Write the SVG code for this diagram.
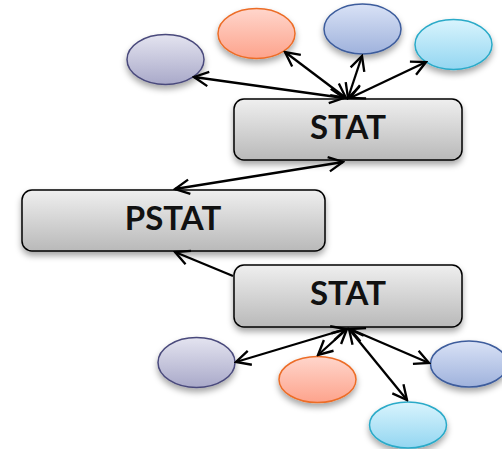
<svg xmlns="http://www.w3.org/2000/svg" width="502" height="449" viewBox="0 0 502 449">
<defs>
<linearGradient id="gBox" x1="0" y1="0" x2="0" y2="1"><stop offset="0" stop-color="#efefef"/><stop offset="1" stop-color="#b9b9b9"/></linearGradient>
<linearGradient id="gPur" x1="0" y1="0" x2="0" y2="1"><stop offset="0" stop-color="#e4e4f0"/><stop offset="1" stop-color="#a9a9c9"/></linearGradient>
<linearGradient id="gOra" x1="0" y1="0" x2="0" y2="1"><stop offset="0" stop-color="#ffd6cc"/><stop offset="1" stop-color="#fda38c"/></linearGradient>
<linearGradient id="gBlu" x1="0" y1="0" x2="0" y2="1"><stop offset="0" stop-color="#d9e2f6"/><stop offset="1" stop-color="#9fb2dc"/></linearGradient>
<linearGradient id="gCya" x1="0" y1="0" x2="0" y2="1"><stop offset="0" stop-color="#d9f4fd"/><stop offset="1" stop-color="#93d6f1"/></linearGradient>
<filter id="sh" x="-20%" y="-20%" width="140%" height="150%"><feDropShadow dx="0" dy="4" stdDeviation="3" flood-color="#000" flood-opacity="0.35"/></filter>
<marker id="ah" viewBox="0 0 20 20" refX="18" refY="10" markerWidth="18" markerHeight="18" markerUnits="userSpaceOnUse" orient="auto-start-reverse"><path d="M2,2 L18,10 L2,18" fill="none" stroke="#000" stroke-width="2.6"/></marker>
</defs>
<style>
.box{fill:url(#gBox);stroke:#000;stroke-width:1.5;filter:url(#sh)}
.lbl{font-family:"Lato","Open Sans","DejaVu Sans",sans-serif;font-size:33px;font-weight:bold;fill:#111;text-anchor:middle}
.c{stroke:#000;stroke-width:2.3;fill:none}
.d{marker-start:url(#ah);marker-end:url(#ah)}
.s{marker-end:url(#ah)}
.pur{fill:url(#gPur);stroke:#4a4a7c;stroke-width:1.5;filter:url(#sh)}
.ora{fill:url(#gOra);stroke:#ec6d28;stroke-width:1.5;filter:url(#sh)}
.blu{fill:url(#gBlu);stroke:#3c5c9c;stroke-width:1.5;filter:url(#sh)}
.cya{fill:url(#gCya);stroke:#2aaac8;stroke-width:1.5;filter:url(#sh)}
</style>
<g id="e1"><ellipse class="pur" cx="165.5" cy="59.5" rx="38.5" ry="25"/></g>
<g id="e2"><ellipse class="ora" cx="256.5" cy="33.5" rx="38.5" ry="25"/></g>
<g id="e3"><ellipse class="blu" cx="362.5" cy="29" rx="38.5" ry="25"/></g>
<g id="e4"><ellipse class="cya" cx="453.5" cy="44.5" rx="38.5" ry="25"/></g>
<g id="e5"><ellipse class="pur" cx="196.5" cy="362.5" rx="38.5" ry="25"/></g>
<g id="e6"><ellipse class="ora" cx="317.5" cy="379.5" rx="38.5" ry="23"/></g>
<g id="e7"><ellipse class="blu" cx="469" cy="364" rx="38.5" ry="23"/></g>
<g id="e8"><ellipse class="cya" cx="408" cy="425" rx="38.5" ry="23"/></g>
<g id="stat1"><rect class="box" x="234" y="99" width="228" height="61" rx="10"/><text class="lbl" x="348" y="139">STAT</text></g>
<g id="pstat"><rect class="box" x="22" y="190" width="303" height="61" rx="10"/><text class="lbl" x="173" y="230">PSTAT</text></g>
<g id="stat2"><rect class="box" x="234" y="265" width="228" height="62" rx="10"/><text class="lbl" x="348" y="305">STAT</text></g>
<g id="connectors">
<line class="c d" x1="344" y1="98" x2="194" y2="77"/>
<line class="c d" x1="346" y1="98" x2="285" y2="52"/>
<line class="c d" x1="348" y1="98" x2="362" y2="56"/>
<line class="c d" x1="350" y1="98" x2="426" y2="62"/>
<line class="c d" x1="343" y1="162" x2="175" y2="189"/>
<line class="c s" x1="233" y1="276" x2="175" y2="252"/>
<line class="c d" x1="346" y1="329" x2="236" y2="362"/>
<line class="c d" x1="347" y1="329" x2="318" y2="355"/>
<line class="c d" x1="349" y1="329" x2="407" y2="400"/>
<line class="c d" x1="350" y1="329" x2="429" y2="363"/>
</g>
</svg>
